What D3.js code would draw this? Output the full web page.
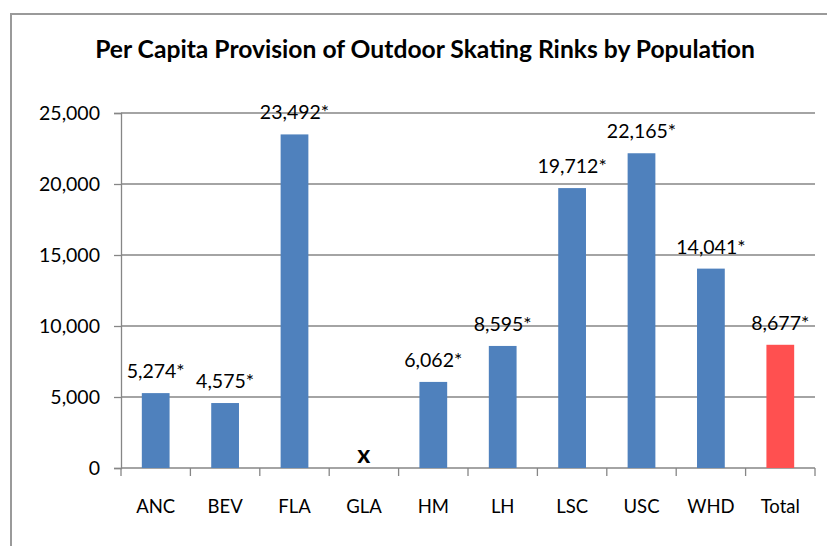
<!DOCTYPE html>
<html>
<head>
<meta charset="utf-8">
<script src="https://cdn.jsdelivr.net/npm/d3@7"></script>
<style>
  html, body { margin: 0; padding: 0; background: #fff; }
  svg { display: block; font-family: Lato, "Open Sans", sans-serif; }
</style>
</head>
<body>
<svg id="chart" width="827" height="546"></svg>
<script>
// Rink provision data (population per outdoor rink)
const categories = ["ANC", "BEV", "FLA", "GLA", "HM", "LH", "LSC", "USC", "WHD", "Total"];
const values = [5274, 4575, 23492, null, 6062, 8595, 19712, 22165, 14041, 8677];
const valueLabels = ["5,274*", "4,575*", "23,492*", "x", "6,062*", "8,595*", "19,712*", "22,165*", "14,041*", "8,677*"];
const yTicks = [0, 5000, 10000, 15000, 20000, 25000];
const title = "Per Capita Provision of Outdoor Skating Rinks by Population";

const barColor = "#4F81BD";
const totalColor = "#FF5050";
const axisColor = "#868686";

const svg = d3.select("#chart");

// outer chart frame (extends past the right and bottom edges)
svg.append("rect")
  .attr("x", 11).attr("y", 14)
  .attr("width", 840).attr("height", 560)
  .attr("fill", "none")
  .attr("stroke", "#9a9a9a")
  .attr("stroke-width", 2);

const plot = { left: 121, right: 815, top: 113, bottom: 468 };

const x = d3.scaleBand()
  .domain(categories)
  .range([plot.left, plot.right])
  .paddingInner(0.6)
  .paddingOuter(0.3);

const xBoundary = d3.scaleLinear()
  .domain([0, categories.length])
  .range([plot.left, plot.right]);

const y = d3.scaleLinear()
  .domain([0, 25000])
  .range([plot.bottom, plot.top]);

// title, sized to span its run
const titleText = svg.append("text")
  .attr("x", 425).attr("y", 58)
  .attr("text-anchor", "middle")
  .attr("font-weight", "bold")
  .attr("font-size", 22)
  .attr("fill", "#000")
  .text(title);
const tw = titleText.node().getComputedTextLength();
titleText.attr("font-size", 22 * 660 / tw);

// horizontal gridlines
svg.append("g")
  .selectAll("line")
  .data(yTicks.filter(d => d > 0))
  .join("line")
  .attr("x1", plot.left).attr("x2", plot.right)
  .attr("y1", d => y(d)).attr("y2", d => y(d))
  .attr("stroke", axisColor)
  .attr("stroke-width", 1.3);

// y axis
const yAxis = d3.axisLeft(y)
  .tickValues(yTicks)
  .tickSize(7)
  .tickPadding(14)
  .tickFormat(d3.format(","));
const gy = svg.append("g")
  .attr("transform", `translate(${plot.left},0)`)
  .call(yAxis);
gy.select(".domain").attr("stroke", axisColor).attr("stroke-width", 1.3);
gy.selectAll(".tick line").attr("stroke", axisColor).attr("stroke-width", 1.3);
gy.selectAll(".tick text")
  .attr("font-family", "Lato, sans-serif")
  .attr("font-size", 19.5)
  .attr("fill", "#000");

// x axis line with boundary ticks
svg.append("line")
  .attr("x1", plot.left).attr("x2", plot.right)
  .attr("y1", plot.bottom).attr("y2", plot.bottom)
  .attr("stroke", axisColor).attr("stroke-width", 1.3);
svg.append("g")
  .selectAll("line")
  .data(d3.range(categories.length + 1))
  .join("line")
  .attr("x1", i => xBoundary(i)).attr("x2", i => xBoundary(i))
  .attr("y1", plot.bottom).attr("y2", plot.bottom + 8)
  .attr("stroke", axisColor).attr("stroke-width", 1.3);

// category labels
svg.append("g")
  .selectAll("text")
  .data(categories)
  .join("text")
  .attr("x", d => x(d) + x.bandwidth() / 2)
  .attr("y", 513)
  .attr("text-anchor", "middle")
  .attr("font-size", 18.5)
  .attr("fill", "#000")
  .text(d => d);

// bars
const barData = categories.map((c, i) => ({ c, v: values[i], label: valueLabels[i] }));
svg.append("g")
  .selectAll("rect")
  .data(barData.filter(d => d.v != null))
  .join("rect")
  .attr("x", d => x(d.c))
  .attr("width", x.bandwidth())
  .attr("y", d => y(d.v))
  .attr("height", d => y(0) - y(d.v))
  .attr("fill", d => d.c === "Total" ? totalColor : barColor);

// value labels above bars; the missing GLA value is marked with a bold x
svg.append("g")
  .selectAll("text")
  .data(barData)
  .join("text")
  .attr("x", d => x(d.c) + x.bandwidth() / 2)
  .attr("y", d => d.v == null ? 463 : y(d.v) - 15)
  .attr("text-anchor", "middle")
  .attr("font-size", d => d.v == null ? 25 : 19.5)
  .attr("font-weight", d => d.v == null ? "bold" : "normal")
  .attr("fill", "#000")
  .text(d => d.label);
</script>
</body>
</html>
